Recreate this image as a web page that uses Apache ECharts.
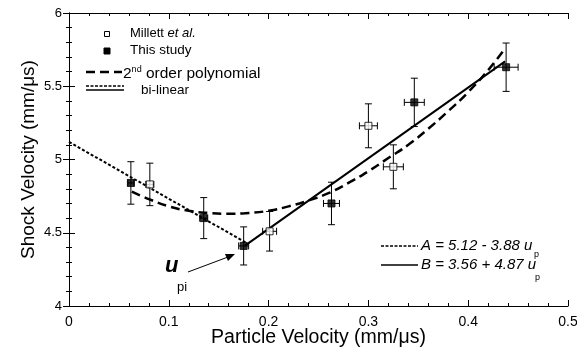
<!DOCTYPE html>
<html>
<head>
<meta charset="utf-8">
<script src="https://cdn.jsdelivr.net/npm/echarts@6/dist/echarts.min.js"></script>
<style>html,body{margin:0;padding:0;background:#fff}#c{width:577px;height:351px}</style>
</head>
<body>
<div id="c"></div>
<script>
// ---- data ----
var xTicks = [0, 0.1, 0.2, 0.3, 0.4, 0.5];
var yTicks = [4, 4.5, 5, 5.5, 6];

var millettX    = [0.081, 0.201, 0.300, 0.325];
var millettY    = [4.83, 4.51, 5.23, 4.95];
var millettYErr = [0.145, 0.135, 0.15, 0.15];
var millettXErr = [0.004, 0.007, 0.009, 0.010];

var studyX    = [0.062, 0.135, 0.175, 0.263, 0.346, 0.438];
var studyY    = [4.84, 4.60, 4.41, 4.70, 5.39, 5.63];
var studyYErr = [0.145, 0.14, 0.13, 0.145, 0.165, 0.165];
var studyXErr = [0.003, 0.004, 0.005, 0.008, 0.010, 0.012];

var polyX = [0.063, 0.08, 0.10, 0.12, 0.14, 0.16, 0.18, 0.20, 0.22, 0.24, 0.26, 0.28, 0.30, 0.32, 0.34, 0.36, 0.38, 0.40, 0.42, 0.437];
var polyY = [4.78, 4.73, 4.68, 4.65, 4.635, 4.63, 4.635, 4.65, 4.68, 4.72, 4.77, 4.84, 4.92, 5.01, 5.10, 5.21, 5.33, 5.46, 5.61, 5.76];

var linAX = [0, 0.178];
var linAY = [5.12, 4.43];
var linBX = [0.176, 0.437];
var linBY = [4.41, 5.67];

function zip(a, b) { return a.map(function (v, i) { return [v, b[i]]; }); }
function errData(x, y, xe, ye) { return x.map(function (v, i) { return [v, y[i], xe[i], ye[i]]; }); }

var FONT = 'Liberation Sans, Arial, sans-serif';
var chart = echarts.init(document.getElementById('c'));

function errRender(params, api) {
  var x = api.value(0), y = api.value(1), xe = api.value(2), ye = api.value(3);
  var top = api.coord([x, y + ye]), bot = api.coord([x, y - ye]);
  var lft = api.coord([x - xe, y]), rgt = api.coord([x + xe, y]);
  var cap = 3.5;
  var st = { stroke: '#000', lineWidth: 1 };
  var ch = [
    { type: 'line', shape: { x1: top[0], y1: top[1], x2: bot[0], y2: bot[1] }, style: st },
    { type: 'line', shape: { x1: top[0] - cap, y1: top[1], x2: top[0] + cap, y2: top[1] }, style: st },
    { type: 'line', shape: { x1: bot[0] - cap, y1: bot[1], x2: bot[0] + cap, y2: bot[1] }, style: st },
    { type: 'line', shape: { x1: lft[0], y1: lft[1], x2: rgt[0], y2: rgt[1] }, style: st },
    { type: 'line', shape: { x1: lft[0], y1: lft[1] - cap, x2: lft[0], y2: lft[1] + cap }, style: st },
    { type: 'line', shape: { x1: rgt[0], y1: rgt[1] - cap, x2: rgt[0], y2: rgt[1] + cap }, style: st }
  ];
  return { type: 'group', children: ch };
}

var axisCommon = {
  axisLine: { show: true, lineStyle: { color: '#000', width: 1 } },
  axisTick: { show: true, inside: true, length: 6, lineStyle: { color: '#000' } },
  minorTick: { show: true, splitNumber: 5, length: 3, lineStyle: { color: '#000' } },
  splitLine: { show: false }
};

var option = {
  backgroundColor: '#fff',
  animation: false,
  grid: { left: 69, right: 9, top: 13, bottom: 45, containLabel: false, outerBoundsMode: 'none' },
  xAxis: [
    Object.assign({
      type: 'value', position: 'bottom', min: xTicks[0], max: xTicks[xTicks.length - 1], interval: 0.1,
      name: 'Particle Velocity (mm/\u03bcs)', nameLocation: 'middle', nameGap: 22, nameMoveOverlap: false,
      nameTextStyle: { fontFamily: FONT, fontSize: 19.5, color: '#000' },
      axisLabel: { fontFamily: FONT, fontSize: 14, color: '#000', margin: 9 }
    }, axisCommon),
    Object.assign({
      type: 'value', position: 'top', min: xTicks[0], max: xTicks[xTicks.length - 1], interval: 0.1,
      axisLabel: { show: false }
    }, axisCommon)
  ],
  yAxis: [
    Object.assign({
      type: 'value', position: 'left', min: yTicks[0], max: yTicks[yTicks.length - 1], interval: 0.5,
      name: 'Shock Velocity (mm/\u03bcs)', nameLocation: 'middle', nameGap: 31, nameRotate: 90, nameMoveOverlap: false,
      nameTextStyle: { fontFamily: FONT, fontSize: 19, color: '#000' },
      axisLabel: { fontFamily: FONT, fontSize: 13, color: '#000', margin: 7 }
    }, axisCommon),
    Object.assign({
      type: 'value', position: 'right', min: yTicks[0], max: yTicks[yTicks.length - 1], interval: 0.5,
      axisLabel: { show: false }
    }, axisCommon)
  ],
  series: [
    { type: 'line', data: zip(polyX, polyY), smooth: true, symbol: 'none',
      lineStyle: { color: '#000', width: 2.5, type: [9, 5] }, z: 2 },
    { type: 'line', data: zip(linAX, linAY), symbol: 'none',
      lineStyle: { color: '#000', width: 2, type: [3, 2] }, z: 3 },
    { type: 'line', data: zip(linBX, linBY), symbol: 'none',
      lineStyle: { color: '#000', width: 2 }, z: 3 },
    { type: 'custom', renderItem: errRender, data: errData(millettX, millettY, millettXErr, millettYErr),
      encode: { x: 0, y: 1 }, z: 4 },
    { type: 'custom', renderItem: errRender, data: errData(studyX, studyY, studyXErr, studyYErr),
      encode: { x: 0, y: 1 }, z: 4 },
    { type: 'scatter', data: zip(millettX, millettY), symbol: 'rect', symbolSize: 7,
      itemStyle: { color: '#fff', borderColor: '#000', borderWidth: 1 }, z: 5 },
    { type: 'scatter', data: zip(studyX, studyY), symbol: 'rect', symbolSize: 7,
      itemStyle: { color: '#000', borderColor: '#000', borderWidth: 1 }, z: 5 }
  ],
  graphic: [
    // legend
    { type: 'rect', shape: { x: 104.5, y: 31.5, width: 5, height: 5 }, style: { fill: '#fff', stroke: '#000', lineWidth: 1 } },
    { type: 'text', x: 130, y: 33, style: { text: '{n|Millett }{i|et al.}', verticalAlign: 'middle',
      rich: { n: { fontFamily: FONT, fontSize: 13, fill: '#000' }, i: { fontFamily: FONT, fontSize: 13, fontStyle: 'italic', fill: '#000' } } } },
    { type: 'rect', shape: { x: 104, y: 48, width: 6, height: 6 }, style: { fill: '#000', stroke: '#000', lineWidth: 1 } },
    { type: 'text', x: 130, y: 50, style: { text: 'This study', fontFamily: FONT, fontSize: 13.5, fill: '#000', verticalAlign: 'middle' } },
    { type: 'line', shape: { x1: 86, y1: 72, x2: 122, y2: 72 }, style: { stroke: '#000', lineWidth: 2.5, lineDash: [9, 5] } },
    { type: 'text', x: 123, y: 74, style: { text: '{n|2}{s|nd}{n| order polynomial}', verticalAlign: 'middle',
      rich: { n: { fontFamily: FONT, fontSize: 15.5, fill: '#000' }, s: { fontFamily: FONT, fontSize: 9, fill: '#000', verticalAlign: 'top', padding: [0, 0, 9, 0] } } } },
    { type: 'line', shape: { x1: 86, y1: 86, x2: 124, y2: 86 }, style: { stroke: '#000', lineWidth: 1.5, lineDash: [3, 1.5] } },
    { type: 'line', shape: { x1: 86, y1: 90, x2: 124, y2: 90 }, style: { stroke: '#000', lineWidth: 1.5 } },
    { type: 'text', x: 141, y: 90, style: { text: 'bi-linear', fontFamily: FONT, fontSize: 13.5, fill: '#000', verticalAlign: 'middle' } },
    // equations
    { type: 'line', shape: { x1: 381, y1: 246, x2: 418, y2: 246 }, style: { stroke: '#000', lineWidth: 1.5, lineDash: [3, 1.5] } },
    { type: 'text', x: 421, y: 246, style: { text: 'A = 5.12 - 3.88 u', fontFamily: FONT, fontSize: 15, fontStyle: 'italic', fill: '#000', verticalAlign: 'middle' } },
    { type: 'text', x: 534, y: 255, style: { text: 'p', fontFamily: FONT, fontSize: 9, fill: '#000', verticalAlign: 'middle' } },
    { type: 'line', shape: { x1: 381, y1: 265, x2: 418, y2: 265 }, style: { stroke: '#000', lineWidth: 1.5 } },
    { type: 'text', x: 421, y: 265, style: { text: 'B = 3.56 + 4.87 u', fontFamily: FONT, fontSize: 15, fontStyle: 'italic', fill: '#000', verticalAlign: 'middle' } },
    { type: 'text', x: 535, y: 278, style: { text: 'p', fontFamily: FONT, fontSize: 9, fill: '#000', verticalAlign: 'middle' } },
    // u_pi annotation
    { type: 'text', x: 165, y: 266, style: { text: 'u', fontFamily: FONT, fontSize: 22, fontWeight: 'bold', fontStyle: 'italic', fill: '#000', verticalAlign: 'middle' } },
    { type: 'text', x: 177, y: 287, style: { text: 'pi', fontFamily: FONT, fontSize: 13, fill: '#000', verticalAlign: 'middle' } },
    { type: 'line', shape: { x1: 188, y1: 272, x2: 228, y2: 257 }, style: { stroke: '#000', lineWidth: 1 } },
    { type: 'polygon', shape: { points: [[235, 254], [225, 254], [228, 261]] }, style: { fill: '#000' } }
  ]
};
chart.setOption(option);
</script>
</body>
</html>
